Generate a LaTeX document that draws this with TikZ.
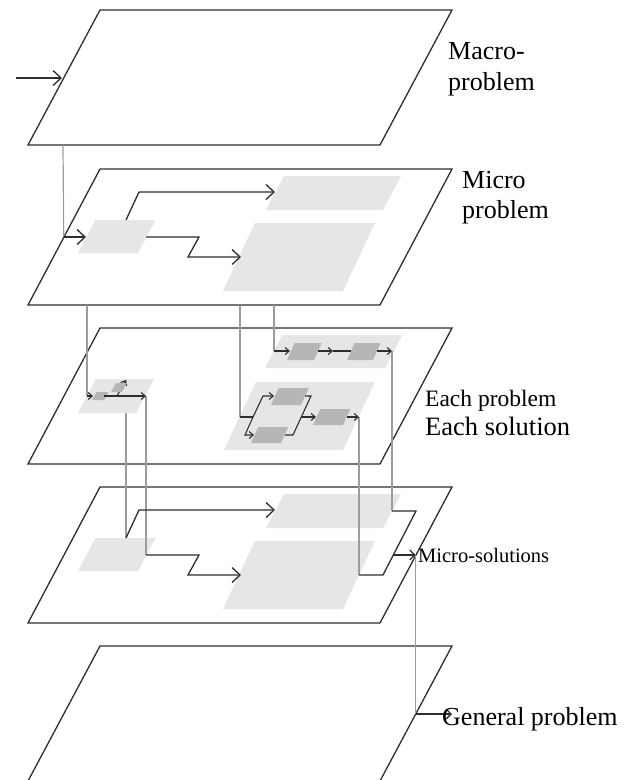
\documentclass[tikz,border=0pt]{standalone}
\usepackage{fontspec}
\setmainfont{Liberation Serif}
\usetikzlibrary{arrows.meta,calc}
\definecolor{lineC}{HTML}{2E2E2E}
\definecolor{grayC}{HTML}{9C9C9C}
\definecolor{lightC}{HTML}{E6E6E7}
\definecolor{midC}{HTML}{B6B6B7}
% slanted box: [slope]{style}{x of bottom-left}{y of bottom}{width}{height}
\newcommand{\pgram}[6][0.53]{\fill[#2] (#3,#4) -- ++(#5,0) -- ++({#1*#6},{-#6}) -- ++({-#5},0) -- cycle;}
\begin{document}
\begin{tikzpicture}[x=1pt,y=-1pt,
  plane/.style={draw=lineC, line width=1.3pt, fill=white, line join=miter},
  dk/.style={draw=lineC, line width=1.3pt},
  gr/.style={draw=grayC, line width=1.2pt},
  bigarr/.style={-{Straight Barb[length=8pt,width=15pt]}},
  medarr/.style={-{Straight Barb[length=5pt,width=10pt]}},
  smallarr/.style={-{Straight Barb[length=4pt,width=7pt]}},
  lightbox/.style={fill=lightC},
  midbox/.style={fill=midC},
  lbl/.style={anchor=base west, inner sep=0pt, align=left, text=black}]
\useasboundingbox (0,0) rectangle (635,780);

% ---------- planes ----------
\draw[plane] (28,145) -- (380,145) -- (452,10) -- (100,10) -- cycle;
\draw[plane] (28,305) -- (380,305) -- (452,169) -- (100,169) -- cycle;
\draw[plane] (28,464) -- (380,464) -- (452,328) -- (100,328) -- cycle;
\draw[plane] (28,623) -- (380,623) -- (452,487) -- (100,487) -- cycle;
\fill[white] (28,781) -- (100,646) -- (452,646) -- (380,781) -- cycle;
\draw[dk] (28,781) -- (100,646) -- (452,646) -- (380,781);

% ---------- plane 2 boxes ----------
\pgram{lightbox}{78}{253}{60}{33}
\pgram{lightbox}{266}{210}{117}{34}
\pgram[0.47]{lightbox}{223}{291}{120}{68}
% ---------- plane 4 boxes ----------
\pgram{lightbox}{78}{571}{60}{33}
\pgram{lightbox}{266}{528}{117}{34}
\pgram[0.47]{lightbox}{223}{609}{120}{68}
% ---------- plane 3 groups ----------
\pgram{lightbox}{78}{413}{58}{34}
\pgram{lightbox}{265}{368}{120}{33}
\pgram[0.47]{lightbox}{224}{450}{119}{68}

% ---------- coordinates ----------
\coordinate (inS) at (16,78);   \coordinate (inE) at (62,78);
\coordinate (p1b) at (63,145);  \coordinate (p2l) at (63.7,237); \coordinate (s2l) at (86,237);
\coordinate (s2t) at (126,220); \coordinate (u2a) at (139,192); \coordinate (u2e) at (275,192);
\coordinate (s2r) at (146,237); \coordinate (l2a) at (199,237); \coordinate (l2b) at (188,257); \coordinate (l2e) at (241,257);
\coordinate (g1t) at (87,305);  \coordinate (g1b) at (87,396);  \coordinate (a3e) at (93,396);
\coordinate (g2t) at (240,305); \coordinate (g2b) at (240,417);
\coordinate (g3t) at (274,305); \coordinate (g3b) at (274,351);
% plane 3 left group
\coordinate (m1r) at (104,396); \coordinate (m1e) at (146,396);
\coordinate (up3s) at (117,396); \coordinate (up3e) at (126,380);
\coordinate (up3m) at (124.2,383.2);
\coordinate (lg3b) at (126,413);
% plane 3 right top group
\coordinate (t1e) at (290,351); \coordinate (t1r) at (318,351); \coordinate (t1m) at (333,351);
\coordinate (t2l) at (351,351); \coordinate (t2r) at (377,351); \coordinate (t2e) at (392,351);
% plane 3 right bottom group
\coordinate (J1) at (253,417);
\coordinate (fa) at (263,396); \coordinate (fae) at (274,396);
\coordinate (fb) at (245,435); \coordinate (fbe) at (254,435);
\coordinate (Ar) at (305,396); \coordinate (Ax) at (311,396);
\coordinate (Bx) at (293,435); \coordinate (Br) at (285,435);
\coordinate (J2) at (301.3,417); \coordinate (Ce) at (316,417);
\coordinate (Cr) at (347,417); \coordinate (Cx) at (359,417);
% plane 4
\coordinate (s4t) at (126,538); \coordinate (u4a) at (139,510); \coordinate (u4e) at (275,510);
\coordinate (s4r) at (146,555); \coordinate (l4a) at (199,555); \coordinate (l4b) at (188,575); \coordinate (l4e) at (241,575);
\coordinate (r4a) at (392,511); \coordinate (r4b) at (416,511); \coordinate (r4c) at (383,575); \coordinate (r4d) at (359,575);
\coordinate (r4m) at (393.3,555); \coordinate (r4e) at (415.7,555);
% plane 5
\coordinate (p5r) at (415.7,714); \coordinate (p5e) at (452,714);

% ---------- plane 3 dark boxes ----------
\draw[dk, line width=1.1pt] (up3s) -- (up3e);
\draw[dk, line width=1.1pt, smallarr] (up3m) -- (up3e);
\pgram[0.55]{midbox}{92}{400}{12}{8}
\pgram[0.55]{midbox}{111}{392}{11}{9}
\pgram[0.45]{midbox}{287}{360}{27}{17}
\pgram[0.45]{midbox}{347}{360}{26}{17}
\pgram[0.45]{midbox}{271}{405}{30}{17}
\pgram[0.45]{midbox}{251}{443}{30}{16}
\pgram[0.45]{midbox}{313}{425}{30}{16}

% ---------- gray connectors ----------
\draw[gr] (p1b) -- (p2l);
\draw[gr] (g1t) -- (g1b);
\draw[gr] (g2t) -- (g2b);
\draw[gr] (g3t) -- (g3b);
\draw[gr] (lg3b) -- (s4t);
\draw[gr] (m1e) -- (s4r);
\draw[gr] (Cx) -- (r4d);
\draw[gr] (t2e) -- (r4a);
\draw[gr] (r4e) -- (p5r);

% ---------- dark connectors ----------
\draw[dk, bigarr] (inS) -- (inE);
\draw[dk, bigarr] (p2l) -- (s2l);
\draw[dk, bigarr] (s2t) -- (u2a) -- (u2e);
\draw[dk, bigarr] (s2r) -- (l2a) -- (l2b) -- (l2e);
% plane 3
\draw[dk, line width=1.1pt, smallarr] (g1b) -- (a3e);
\draw[dk, line width=1.1pt, smallarr] (m1r) -- (m1e);
\draw[dk, line width=1.1pt, smallarr] (g3b) -- (t1e);
\draw[dk, line width=1.1pt, smallarr] (t1r) -- (t1m);
\draw[dk, line width=1.1pt] (t1m) -- (t2l);
\draw[dk, line width=1.1pt, smallarr] (t2r) -- (t2e);
\draw[dk, line width=1.1pt] (g2b) -- (J1);
\draw[dk, line width=1.1pt, smallarr] (J1) -- (fa) -- (fae);
\draw[dk, line width=1.1pt, smallarr] (J1) -- (fb) -- (fbe);
\draw[dk, line width=1.1pt] (Ar) -- (Ax) -- (Bx) -- (Br);
\draw[dk, line width=1.1pt, smallarr] (J2) -- (Ce);
\draw[dk, line width=1.1pt, smallarr] (Cr) -- (Cx);
% plane 4
\draw[dk, bigarr] (s4t) -- (u4a) -- (u4e);
\draw[dk, bigarr] (s4r) -- (l4a) -- (l4b) -- (l4e);
\draw[dk] (r4a) -- (r4b) -- (r4c) -- (r4d);
\draw[dk, medarr] (r4m) -- (r4e);
% plane 5
\draw[dk, medarr] (p5r) -- (p5e);

% ---------- labels ----------
\node[lbl, font=\fontsize{26}{31}\selectfont] (macro) at (448,90) {Macro-\\problem};
\node[lbl, font=\fontsize{26}{30}\selectfont] (micro) at (462,218) {Micro\\problem};
\node[lbl, font=\fontsize{23.5}{29}\selectfont] (eachp) at (425,406) {Each problem};
\node[lbl, font=\fontsize{26.5}{29}\selectfont] (eachs) at (425,435) {Each solution};
\node[lbl, font=\fontsize{20.5}{24}\selectfont] (msol) at (418,562) {Micro-solutions};
\node[lbl, font=\fontsize{26}{30}\selectfont] (gen) at (442,725) {General problem};
\end{tikzpicture}
\end{document}
